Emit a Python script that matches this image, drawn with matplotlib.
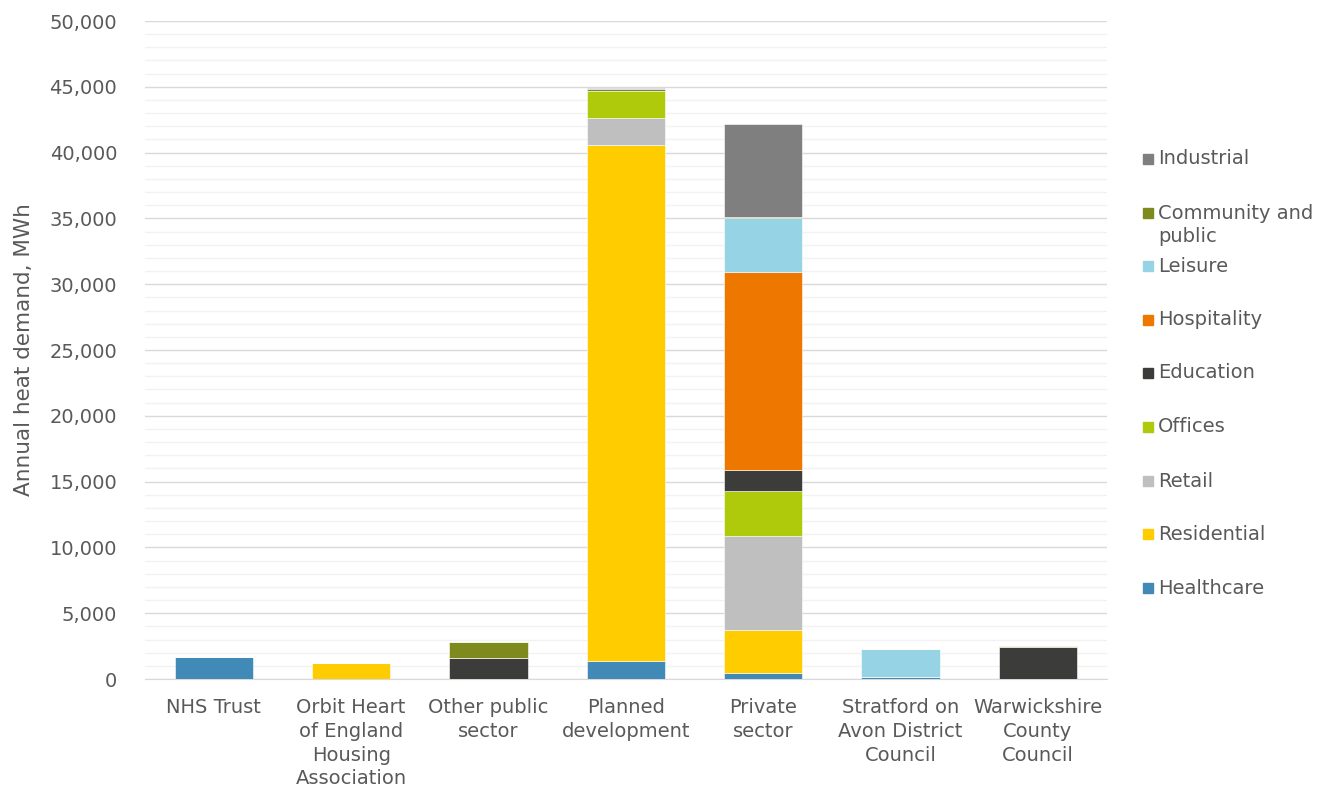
import numpy as np
import matplotlib
matplotlib.use('Agg')
import matplotlib.pyplot as plt
from matplotlib.patches import Rectangle
from matplotlib.ticker import FuncFormatter, MultipleLocator

plt.rcParams['font.family'] = ['DejaVu Sans']

# ===================== 数据 =====================
categories = ['NHS Trust', 'Orbit Heart\nof England\nHousing\nAssociation',
              'Other public\nsector', 'Planned\ndevelopment', 'Private\nsector',
              'Stratford on\nAvon District\nCouncil', 'Warwickshire\nCounty\nCouncil']

# 堆叠顺序（自下而上）
healthcare = [1700, 0, 0, 1400, 460, 120, 0]
residential = [0, 1200, 0, 39200, 3300, 0, 0]
retail = [0, 0, 0, 2000, 7100, 0, 0]
offices = [0, 0, 0, 2100, 3450, 0, 0]
education = [0, 0, 1620, 0, 1550, 0, 2470]
hospitality = [0, 0, 0, 0, 15100, 0, 0]
leisure = [0, 0, 0, 0, 4100, 2160, 0]
community = [0, 0, 1170, 150, 80, 0, 60]
industrial = [0, 0, 0, 50, 7000, 0, 0]

series = [
    ('Healthcare', healthcare, '#4189B6'),
    ('Residential', residential, '#FFCC00'),
    ('Retail', retail, '#BFBFBF'),
    ('Offices', offices, '#AFCA0B'),
    ('Education', education, '#3C3C3B'),
    ('Hospitality', hospitality, '#EE7700'),
    ('Leisure', leisure, '#96D3E5'),
    ('Community and\npublic', community, '#7F8A1E'),
    ('Industrial', industrial, '#7F7F7F'),
]

TXT = '#595959'
FS = 14

fig = plt.figure(figsize=(13.19, 7.87), dpi=100)
ax = fig.add_axes([0.110, 0.1372, 0.729, 0.8361])

x = np.arange(len(categories))
bottom = np.zeros(len(categories))
for label, vals, color in series:
    v = np.array(vals, dtype=float)
    ax.bar(x, v, width=0.57, bottom=bottom, color=color, edgecolor='white', linewidth=0.4, zorder=3)
    bottom += v

ax.set_xlim(-0.5, len(categories) - 0.5)
ax.set_ylim(0, 50000)
ax.yaxis.set_major_locator(MultipleLocator(5000))
ax.yaxis.set_minor_locator(MultipleLocator(1000))
ax.yaxis.set_major_formatter(FuncFormatter(lambda v, p: f'{int(v):,}'))
ax.grid(axis='y', which='major', color='#D9D9D9', lw=1, zorder=0)
ax.grid(axis='y', which='minor', color='#F2F2F2', lw=1, zorder=0)
for s in ['top', 'right', 'left']:
    ax.spines[s].set_visible(False)
ax.spines['bottom'].set_color('#D9D9D9')
ax.tick_params(axis='both', which='both', length=0, colors=TXT, labelsize=FS)
ax.tick_params(axis='y', pad=20)
ax.tick_params(axis='x', pad=14)
ax.set_xticks(x)
ax.set_xticklabels(categories, linespacing=1.31)
ax.set_ylabel('Annual heat demand, MWh', color=TXT, fontsize=15.5, labelpad=11)

# 图例（手绘，倒序，Industrial 在上）
W, H = fig.get_size_inches() * fig.dpi
leg_y = [159, 213, 266, 320, 373, 427, 481, 534, 588]
for (label, _, color), yp in zip(reversed(series), leg_y):
    fig.patches.append(Rectangle((1143 / W, 1 - (yp + 5) / H), 10 / W, 10 / H,
                                 transform=fig.transFigure, color=color))
    if '\n' in label:
        fig.text(1158 / W, 1 - (yp - 9) / H, label, fontsize=FS, color=TXT, va='top',
                 linespacing=1.26)
    else:
        fig.text(1158 / W, 1 - yp / H, label, fontsize=FS, color=TXT, va='center')

plt.savefig('out.png', dpi=100)
